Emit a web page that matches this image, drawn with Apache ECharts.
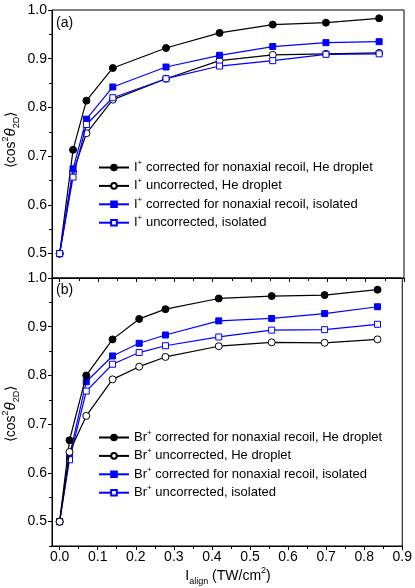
<!DOCTYPE html>
<html>
<head>
<meta charset="utf-8">
<script src="https://cdn.jsdelivr.net/npm/echarts@6/dist/echarts.min.js"></script>
<style>
html,body{margin:0;padding:0;background:#fff;}
#c{width:415px;height:588px;}
</style>
</head>
<body>
<div id="c"></div>
<script>
// ---- data ----
const xTop = [0, 0.035, 0.07, 0.139, 0.278, 0.418, 0.557, 0.696, 0.835];
const iCorrHe   = [0.5, 0.713, 0.814, 0.881, 0.922, 0.953, 0.970, 0.974, 0.983];
const iUncorHe  = [0.5, 0.667, 0.747, 0.816, 0.859, 0.896, 0.908, 0.910, 0.912];
const iCorrIso  = [0.5, 0.674, 0.776, 0.842, 0.883, 0.907, 0.925, 0.933, 0.935];
const iUncorIso = [0.5, 0.657, 0.765, 0.820, 0.859, 0.885, 0.896, 0.909, 0.910];

const xBot = [0, 0.026, 0.07, 0.139, 0.209, 0.278, 0.418, 0.557, 0.696, 0.835];
const brCorrHe   = [0.5, 0.667, 0.800, 0.874, 0.916, 0.936, 0.958, 0.963, 0.965, 0.976];
const brUncorHe  = [0.5, 0.643, 0.717, 0.792, 0.818, 0.838, 0.860, 0.868, 0.867, 0.874];
const brCorrIso  = [0.5, 0.635, 0.787, 0.840, 0.866, 0.883, 0.912, 0.917, 0.927, 0.941];
const brUncorIso = [0.5, 0.627, 0.768, 0.823, 0.847, 0.861, 0.879, 0.893, 0.894, 0.905];

const namesTop = [
  'I+ corrected for nonaxial recoil, He droplet',
  'I+ uncorrected, He droplet',
  'I+ corrected for nonaxial recoil, isolated',
  'I+ uncorrected, isolated'
];
const namesBot = [
  'Br+ corrected for nonaxial recoil, He droplet',
  'Br+ uncorrected, He droplet',
  'Br+ corrected for nonaxial recoil, isolated',
  'Br+ uncorrected, isolated'
];

const xMajorTicks = [0, 0.1, 0.2, 0.3, 0.4, 0.5, 0.6, 0.7, 0.8, 0.9];
const xMinorTicks = [0.05, 0.15, 0.25, 0.35, 0.45, 0.55, 0.65, 0.75, 0.85];
const yMajorTicks = [0.5, 0.6, 0.7, 0.8, 0.9, 1.0];
const yMinorTicks = [0.45, 0.55, 0.65, 0.75, 0.85, 0.95];

// ---- chart ----
const FONT = '"Liberation Sans", Arial, sans-serif';
const BLUE = '#0000ff';
const pairs = (xs, ys) => xs.map((x, i) => [x, ys[i]]);

function xAxes(grid, showLabels) {
  return [
    {
      type: 'value', gridIndex: grid, position: 'bottom', min: -0.02, max: 0.9,
      axisLine: { show: true, onZero: false, lineStyle: { color: '#000', width: 1 } },
      axisTick: { show: true, inside: false, length: 4, customValues: xMajorTicks, lineStyle: { color: '#000' } },
      axisLabel: { show: showLabels, customValues: xMajorTicks, margin: 4, color: '#000', fontSize: 14, fontFamily: FONT,
                   formatter: v => v.toFixed(1) },
      splitLine: { show: false }
    },
    {
      type: 'value', gridIndex: grid, position: 'bottom', min: -0.02, max: 0.9,
      axisLine: { show: false, onZero: false },
      axisTick: { show: true, inside: false, length: 3, customValues: xMinorTicks, lineStyle: { color: '#000' } },
      axisLabel: { show: false },
      splitLine: { show: false }
    }
  ];
}
function yAxes(grid) {
  return [
    {
      type: 'value', gridIndex: grid, position: 'left', min: 0.45, max: 1.0,
      axisLine: { show: true, onZero: false, lineStyle: { color: '#000', width: 1 } },
      axisTick: { show: true, inside: false, length: 4, customValues: yMajorTicks, lineStyle: { color: '#000' } },
      axisLabel: { show: true, customValues: yMajorTicks, margin: 5, color: '#000', fontSize: 14, fontFamily: FONT,
                   formatter: v => v.toFixed(1) },
      splitLine: { show: false }
    },
    {
      type: 'value', gridIndex: grid, position: 'left', min: 0.45, max: 1.0,
      axisLine: { show: false, onZero: false },
      axisTick: { show: true, inside: false, length: 3, customValues: yMinorTicks, lineStyle: { color: '#000' } },
      axisLabel: { show: false },
      splitLine: { show: false }
    }
  ];
}

function mkSeries(name, xs, ys, xi, yi, color, symbol, filled, z) {
  return {
    type: 'line', name, xAxisIndex: xi, yAxisIndex: yi,
    data: pairs(xs, ys),
    symbol, symbolSize: symbol === 'circle' ? 7 : 6,
    showAllSymbol: true,
    z: z,
    lineStyle: { color, width: 1.2 },
    itemStyle: { color: filled ? color : '#fff', borderColor: color, borderWidth: 1 },
    emphasis: { disabled: true }
  };
}

const legendCommon = {
  orient: 'vertical', left: 98, padding: 0, itemWidth: 30, itemHeight: 7, itemGap: 0.4,
  textStyle: {
    fontSize: 13, fontFamily: FONT, color: '#000', lineHeight: 18,
    rich: { sup: { fontSize: 8, fontFamily: FONT, color: '#000', verticalAlign: 'top', lineHeight: 10 } }
  },
  formatter: n => n.replace('+', '{sup|+}'),
  selectedMode: false
};

const titleRich = {
  a: { fontSize: 14, fontFamily: FONT, color: '#000', lineHeight: 20 },
  sup: { fontSize: 9, fontFamily: FONT, color: '#000', verticalAlign: 'top', lineHeight: 10 },
  sub: { fontSize: 9, fontFamily: FONT, color: '#000', verticalAlign: 'bottom', lineHeight: 10 },
  th: { fontSize: 15, fontFamily: FONT, fontStyle: 'italic', color: '#000', lineHeight: 20 }
};
const yTitle = '{a|⟨cos}{sup|2}{th|θ}{sub|2D}{a|⟩}';

const chart = echarts.init(document.getElementById('c'), null, { renderer: 'canvas' });
chart.setOption({
  animation: false,
  backgroundColor: '#fff',
  grid: [
    { left: 52, top: 10, width: 352, height: 268, show: true, borderColor: '#000', borderWidth: 1, backgroundColor: 'transparent' },
    { left: 52, top: 278, width: 352, height: 268, show: true, borderColor: '#000', borderWidth: 1, backgroundColor: 'transparent' }
  ],
  xAxis: [...xAxes(0, false), ...xAxes(1, true)],
  yAxis: [...yAxes(0), ...yAxes(1)],
  legend: [
    Object.assign({}, legendCommon, { top: 158.5, data: namesTop }),
    Object.assign({}, legendCommon, { top: 428.5, data: namesBot })
  ],
  series: [
    mkSeries(namesTop[0], xTop, iCorrHe, 0, 0, '#000', 'circle', true, 2),
    mkSeries(namesTop[1], xTop, iUncorHe, 0, 0, '#000', 'circle', false, 3),
    mkSeries(namesTop[2], xTop, iCorrIso, 0, 0, BLUE, 'rect', true, 4),
    mkSeries(namesTop[3], xTop, iUncorIso, 0, 0, BLUE, 'rect', false, 5),
    mkSeries(namesBot[0], xBot, brCorrHe, 2, 2, '#000', 'circle', true, 4),
    mkSeries(namesBot[1], xBot, brUncorHe, 2, 2, '#000', 'circle', false, 5),
    mkSeries(namesBot[2], xBot, brCorrIso, 2, 2, BLUE, 'rect', true, 2),
    mkSeries(namesBot[3], xBot, brUncorIso, 2, 2, BLUE, 'rect', false, 3)
  ],
  graphic: [
    { type: 'text', x: 56, y: 23, style: { text: '(a)', font: '14px ' + FONT, fill: '#000', verticalAlign: 'middle' } },
    { type: 'text', x: 56, y: 290, style: { text: '(b)', font: '14px ' + FONT, fill: '#000', verticalAlign: 'middle' } },
    { type: 'text', x: 11, y: 140, rotation: Math.PI / 2,
      style: { text: yTitle, rich: titleRich, align: 'center', verticalAlign: 'middle' } },
    { type: 'text', x: 11, y: 414, rotation: Math.PI / 2,
      style: { text: yTitle, rich: titleRich, align: 'center', verticalAlign: 'middle' } },
    { type: 'text', x: 228, y: 576,
      style: { text: '{a|I}{sub|align}{a| (TW/cm}{sup|2}{a|)}', rich: titleRich, align: 'center', verticalAlign: 'middle' } }
  ]
});
</script>
</body>
</html>
